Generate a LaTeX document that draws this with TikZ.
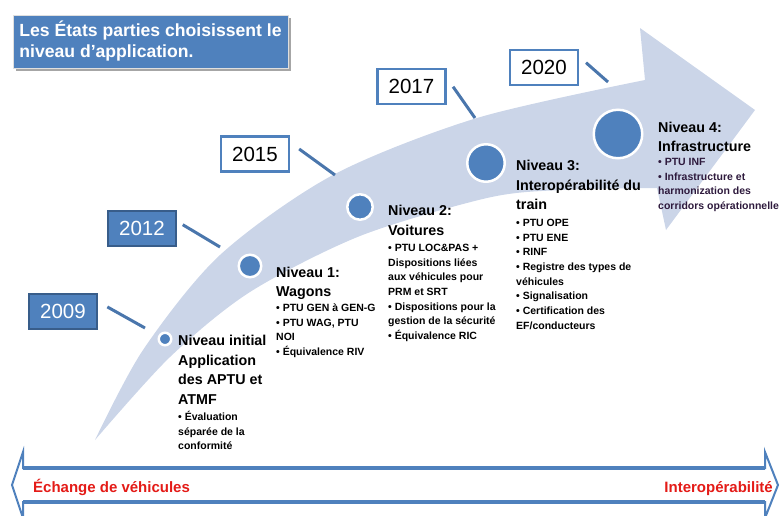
\documentclass[tikz,border=0pt]{standalone}
\usepackage{fontspec}
\setmainfont{Liberation Sans}
\usepackage{tikz}
\usetikzlibrary{
  positioning,
  shadows
}
\definecolor{bandblue}{HTML}{CBD5E8}
\definecolor{dotblue}{HTML}{4F81BD}
\definecolor{lineblue}{HTML}{4A76AC}
\definecolor{boxedge}{HTML}{385D8A}
\definecolor{exchred}{HTML}{E41B17}
\definecolor{infpurple}{HTML}{2E1A3D}
\tikzstyle{headbox} = [
  rectangle, fill=dotblue, draw=gray!25, line width=1pt,
  minimum width=275pt, minimum height=53pt, align=left, text=white,
  font=\fontsize{17.6}{21}\selectfont\bfseries,
  drop shadow={shadow xshift=3pt, shadow yshift=-3pt, fill=gray!70, opacity=1}
]
\tikzstyle{yeardark} = [
  rectangle, fill=dotblue, draw=boxedge, line width=1.5pt,
  minimum width=68pt, minimum height=35pt, inner sep=0pt,
  text=white, font=\fontsize{20.5}{24}\selectfont
]
\tikzstyle{yearlight} = [yeardark, fill=white, draw=dotblue, line width=2.5pt, text=black]
\tikzstyle{yearline} = [draw=lineblue, line width=3pt]
\tikzstyle{stepdot} = [circle, fill=dotblue, draw=white, line width=2.5pt, inner sep=0pt]
\tikzstyle{leveltitle} = [
  anchor=north west, inner sep=0pt, align=left,
  font=\fontsize{14.3}{19.5}\selectfont\bfseries
]
\tikzstyle{levelitems} = [
  anchor=north west, inner sep=0pt, align=left,
  font=\fontsize{10.5}{14.7}\selectfont\bfseries
]
\tikzstyle{axislabel} = [inner sep=0pt, text=exchred, font=\fontsize{15}{18}\selectfont\bfseries]

\begin{document}
\begin{tikzpicture}[x=1pt, y=-1pt]
\useasboundingbox (0,0) rectangle (782,515);

% --- Curved band ---
\fill[bandblue] plot[smooth] coordinates {(95,440) (143,350) (220,255) (333,175) (477,118) (645,80)}
  -- (640,28) -- (755,110) -- (666,230) -- (657,188)
  -- plot[smooth] coordinates {(657,188) (560,190) (487,198) (360,236) (250,292) (170,357) (95,440)} -- cycle;

% --- Header ---
\node[headbox] (head) at (150.5,41.5) {Les États parties choisissent le\\niveau d’application.};

% --- Dots ---
\node[stepdot, minimum size=12.5pt] (d0) at (165,339) {};
\node[stepdot, minimum size=22.5pt] (d1) at (250,266) {};
\node[stepdot, minimum size=25.5pt] (d2) at (360,207) {};
\node[stepdot, minimum size=37.5pt] (d3) at (486,163) {};
\node[stepdot, minimum size=48.5pt] (d4) at (618,134) {};

% --- Years ---
\node[yeardark] (y2009) at (63,311.5) {2009};
\node[yeardark] (y2012) at (142,228.5) {2012};
\node[yearlight] (y2015) at (255,154) {2015};
\node[yearlight] (y2017) at (411.5,86.5) {2017};
\node[yearlight] (y2020) at (544,67.5) {2020};

\coordinate (e2009) at (145,328);
\coordinate (e2012) at (220,247);
\coordinate (e2015) at (335,175);
\coordinate (e2017) at (475,118);
\coordinate (e2020) at (608,82);

\draw[yearline, shorten <=11pt] (y2009.16) -- (e2009);
\draw[yearline, shorten <=7pt] (y2012.12) -- (e2012);
\draw[yearline, shorten <=11pt] (y2015.18) -- (e2015);
\draw[yearline, shorten <=11pt] (y2017.14) -- (e2017);
\draw[yearline, shorten <=9pt] (y2020.17) -- (e2020);

% --- Levels ---
\node[leveltitle] (t0) at (178,335) {Niveau initial\\Application\\des APTU et\\ATMF};
\node[levelitems, below=6.6pt of t0.south west, anchor=north west] (b0)
  {• Évaluation\\séparée de la\\conformité};

\node[leveltitle] (t1) at (276,266.5) {Niveau 1:\\Wagons};
\node[levelitems, below=3.7pt of t1.south west, anchor=north west] (b1)
  {• PTU GEN à GEN-G\\• PTU WAG, PTU\\NOI\\• Équivalence RIV};

\node[leveltitle] (t2) at (388,205) {Niveau 2:\\Voitures};
\node[levelitems, below=8.4pt of t2.south west, anchor=north west] (b2)
  {• PTU LOC\&PAS +\\Dispositions liées\\aux véhicules pour\\PRM et SRT\\• Dispositions pour la\\gestion de la sécurité\\• Équivalence RIC};

\node[leveltitle] (t3) at (516,160) {Niveau 3:\\Interopérabilité du\\train};
\node[levelitems, below=8.9pt of t3.south west, anchor=north west] (b3)
  {• PTU OPE\\• PTU ENE\\• RINF\\• Registre des types de\\véhicules\\• Signalisation\\• Certification des\\EF/conducteurs};

\node[leveltitle] (t4) at (658,121.5) {Niveau 4:\\Infrastructure};
\node[levelitems, text=infpurple, below=6pt of t4.south west, anchor=north west] (b4)
  {• PTU INF\\• Infrastructure et\\harmonization des\\corridors opérationnelle};

% --- Bottom axis ---
\draw[draw=dotblue, line width=2pt, fill=white]
  (12,485) -- (23,452) -- (23,468) -- (765,468) -- (765,452) -- (778,485)
  -- (765,518) -- (765,502) -- (23,502) -- (23,518) -- cycle;
\draw[dotblue, line width=4.5pt] (23,468) -- (765,468);
\draw[dotblue, line width=4.5pt] (23,502) -- (765,502);
\node[axislabel, anchor=base west] (exch) at (33,492) {Échange de véhicules};
\node[axislabel, anchor=base east] (inter) at (773,492) {Interopérabilité};

\end{tikzpicture}
\end{document}
